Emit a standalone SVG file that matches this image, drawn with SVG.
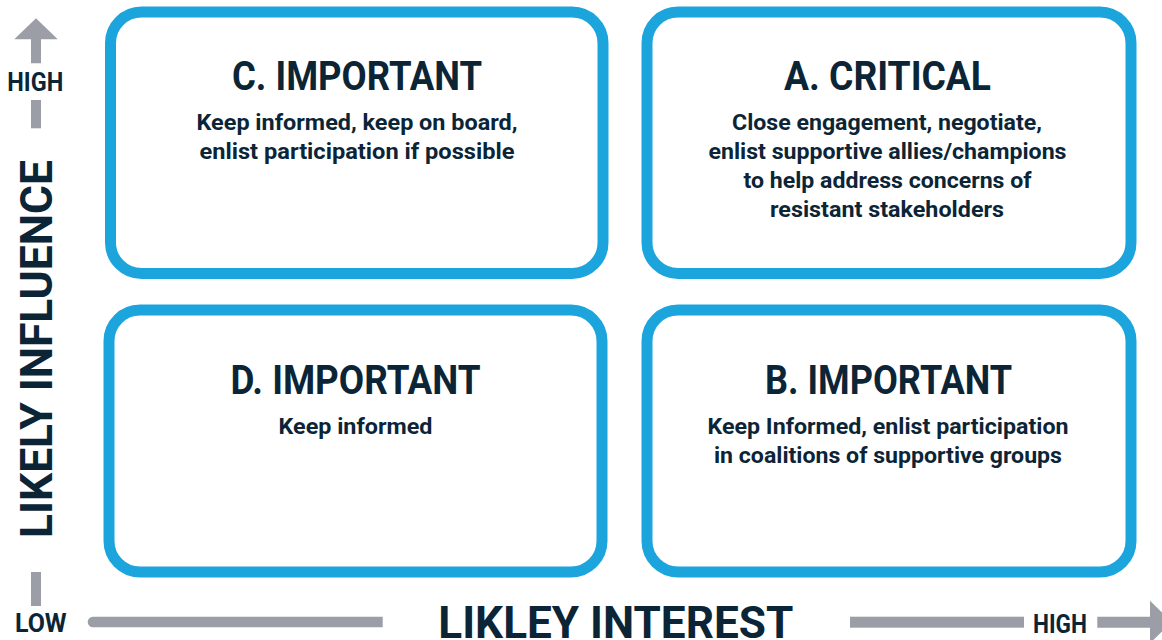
<svg xmlns="http://www.w3.org/2000/svg" width="1162" height="640" viewBox="0 0 1162 640">
<style>
.box{fill:#ffffff;stroke:#1ca5dd;stroke-width:11}
.t{font-family:Roboto,"Liberation Sans",sans-serif;font-weight:700;fill:#0b2537;text-anchor:middle}
.title{font-size:40px}
.body{font-size:22.5px}
.axis{font-size:45px}
.lbl{font-size:25px}
.bar{fill:#9b9ea6}
</style>
<rect width="1162" height="640" fill="#ffffff"/>
<g id="node-c">
<rect class="box" x="110.5" y="12" width="492.5" height="261.5" rx="31"/>
<text class="t title" x="357" y="90" textLength="250" lengthAdjust="spacingAndGlyphs">C. IMPORTANT</text>
<text class="t body" x="357" y="130" textLength="321" lengthAdjust="spacingAndGlyphs">Keep informed, keep on board,</text>
<text class="t body" x="357" y="159" textLength="315" lengthAdjust="spacingAndGlyphs">enlist participation if possible</text>
</g>
<g id="node-a">
<rect class="box" x="647" y="12" width="484" height="261.5" rx="31"/>
<text class="t title" x="887.5" y="90" textLength="207" lengthAdjust="spacingAndGlyphs">A. CRITICAL</text>
<text class="t body" x="887" y="130" textLength="310" lengthAdjust="spacingAndGlyphs">Close engagement, negotiate,</text>
<text class="t body" x="887.5" y="159" textLength="358" lengthAdjust="spacingAndGlyphs">enlist supportive allies/champions</text>
<text class="t body" x="887.5" y="188" textLength="288" lengthAdjust="spacingAndGlyphs">to help address concerns of</text>
<text class="t body" x="887" y="216.5" textLength="234" lengthAdjust="spacingAndGlyphs">resistant stakeholders</text>
</g>
<g id="node-d">
<rect class="box" x="109" y="310" width="493" height="262" rx="31"/>
<text class="t title" x="355.5" y="394" textLength="250" lengthAdjust="spacingAndGlyphs">D. IMPORTANT</text>
<text class="t body" x="355.5" y="434" textLength="154" lengthAdjust="spacingAndGlyphs">Keep informed</text>
</g>
<g id="node-b">
<rect class="box" x="647" y="310" width="484" height="262" rx="31"/>
<text class="t title" x="888.5" y="394" textLength="247" lengthAdjust="spacingAndGlyphs">B. IMPORTANT</text>
<text class="t body" x="888" y="434" textLength="361" lengthAdjust="spacingAndGlyphs">Keep Informed, enlist participation</text>
<text class="t body" x="888" y="463" textLength="348" lengthAdjust="spacingAndGlyphs">in coalitions of supportive groups</text>
</g>
<g id="axes">
<polygon class="bar" points="36,18.3 57.7,39.3 41,39.3 41,63.3 31,63.3 31,39.3 14.3,39.3"/>
<rect class="bar" x="31" y="100" width="10" height="28.3"/>
<rect class="bar" x="31" y="572" width="10" height="34"/>
<path class="bar" d="M93,616.7 H382.7 V627.3 H93 A5.3,5.3 0 0 1 93,616.7 Z"/>
<rect class="bar" x="850" y="616.7" width="174" height="11"/>
<polygon class="bar" points="1097.3,616.7 1150,616.7 1150,600.7 1171.5,622 1150,643.3 1150,627.7 1097.3,627.7"/>
<text class="t lbl" x="35.3" y="90.7" textLength="56" lengthAdjust="spacingAndGlyphs">HIGH</text>
<text class="t lbl" x="40.8" y="632.3" textLength="51.7" lengthAdjust="spacingAndGlyphs">LOW</text>
<text class="t lbl" x="1060" y="633.3" textLength="54" lengthAdjust="spacingAndGlyphs">HIGH</text>
<text class="t axis" transform="translate(51.7,349) rotate(-90)" textLength="378" lengthAdjust="spacingAndGlyphs">LIKELY INFLUENCE</text>
<text class="t axis" x="615.8" y="637.5" textLength="355" lengthAdjust="spacingAndGlyphs">LIKLEY INTEREST</text>
</g>
</svg>
